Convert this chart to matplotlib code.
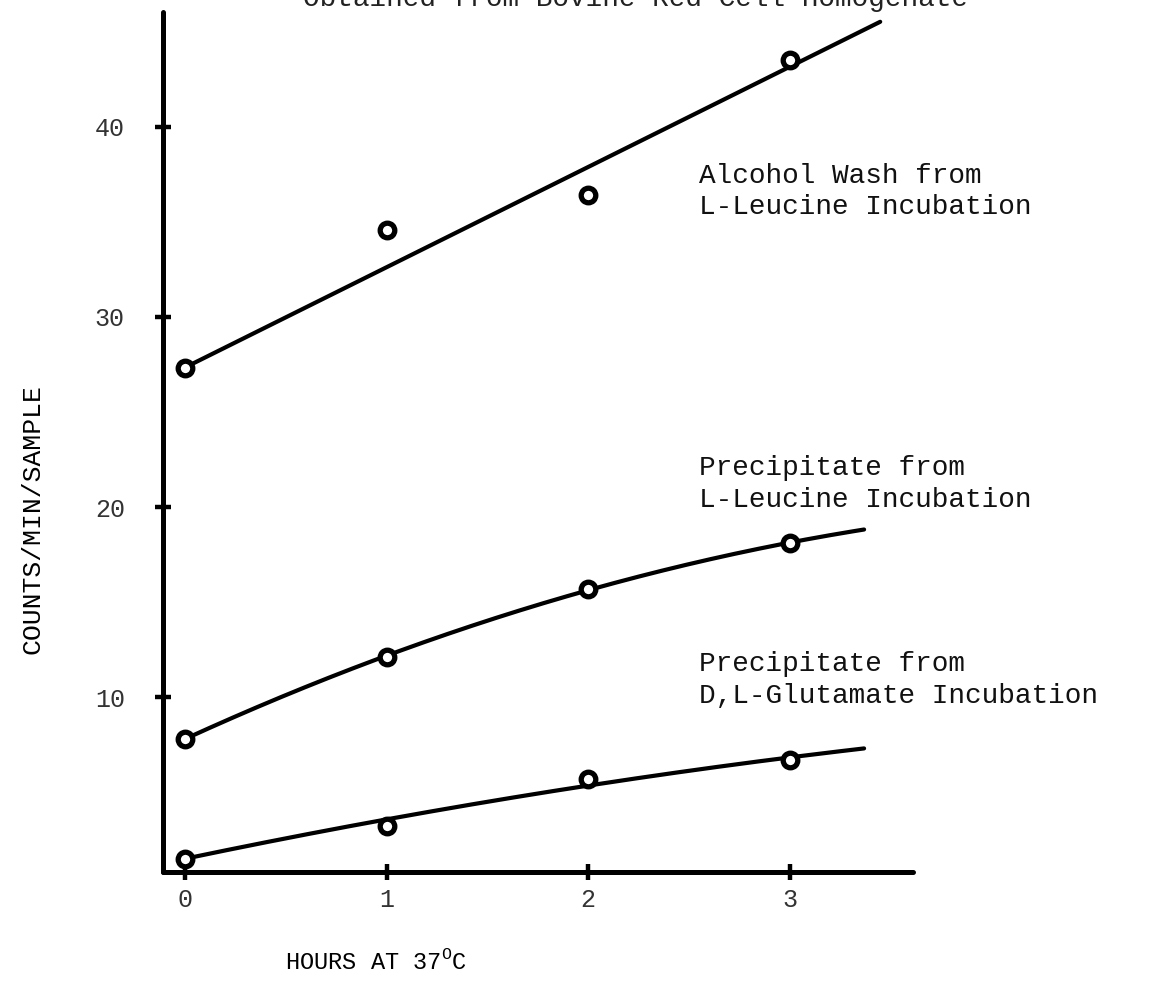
import matplotlib
matplotlib.use("Agg")
import matplotlib.pyplot as plt
import numpy as np

plt.rcParams['font.family'] = ['Liberation Mono', 'DejaVu Sans Mono']
plt.rcParams['mathtext.fontset'] = 'custom'
plt.rcParams['mathtext.rm'] = 'Liberation Mono'

# incubation time (hours at 37 C)
hours = [0, 1, 2, 3]

# counts/min/sample for each fraction
alcohol_wash = [27.3, 34.6, 36.4, 43.5]
precip_leucine = [7.8, 12.1, 15.7, 18.1]
precip_glutamate = [1.5, 3.2, 5.7, 6.7]

series = [
    (alcohol_wash, 1, "Alcohol Wash from\nL-Leucine Incubation", 36.6),
    (precip_leucine, 2, "Precipitate from\nL-Leucine Incubation", 21.2),
    (precip_glutamate, 2, "Precipitate from\nD,L-Glutamate Incubation", 10.9),
]
fit_end = [3.45, 3.37, 3.37]
fit_weights = [4, 1, 1, 1]

fig = plt.figure(figsize=(11.55, 9.85), dpi=100)
ax = fig.add_axes([0.1411, 0.1147, 0.6494, 0.8731])
ax.set_xlim(-0.111, 3.613)
ax.set_ylim(0.79, 46.05)

for (vals, deg, label, ylab), xend in zip(series, fit_end):
    # smooth fitted curve through the measured points
    coef = np.polyfit(hours, vals, deg, w=fit_weights)
    xs = np.linspace(0, xend, 200)
    ax.plot(xs, np.polyval(coef, xs), color='black', lw=3.0,
            solid_capstyle='round', clip_on=False, zorder=2)
    ax.plot(hours, vals, 'o', ms=10.5, mfc='white', mec='black', mew=3.8,
            clip_on=False, zorder=3)
    ax.text(2.55, ylab, label, fontsize=20, ha='left', va='center',
            linespacing=1.28, color='#111111')

for side in ['top', 'right']:
    ax.spines[side].set_visible(False)
for side in ['left', 'bottom']:
    ax.spines[side].set_linewidth(3.6)
    ax.spines[side].set_capstyle('round')

ax.set_xticks(hours)
ax.set_yticks([10, 20, 30, 40])
ax.set_xticklabels(['0', '1', '2', '3'])
ax.set_yticklabels(['10', '20', '30', '40'])
ax.tick_params(direction='inout', length=11, width=3.2, labelsize=18,
               labelcolor='#333333')
ax.tick_params(axis='y', pad=22)
ax.tick_params(axis='x', pad=6)

ax.set_xlabel("HOURS AT 37$^{\\mathrm{O}}$C", fontsize=17)
ax.xaxis.set_label_coords(0.284, -0.09)
ax.set_ylabel("COUNTS/MIN/SAMPLE", fontsize=19)
ax.yaxis.set_label_coords(-0.158, 0.41)

# caption line running off the top edge
fig.text(0.55, 1 - 6 / 985, "Obtained from Bovine Red Cell Homogenate",
         fontsize=20, ha='center', va='baseline', color='#222222')

fig.savefig("out.png", dpi=100)
